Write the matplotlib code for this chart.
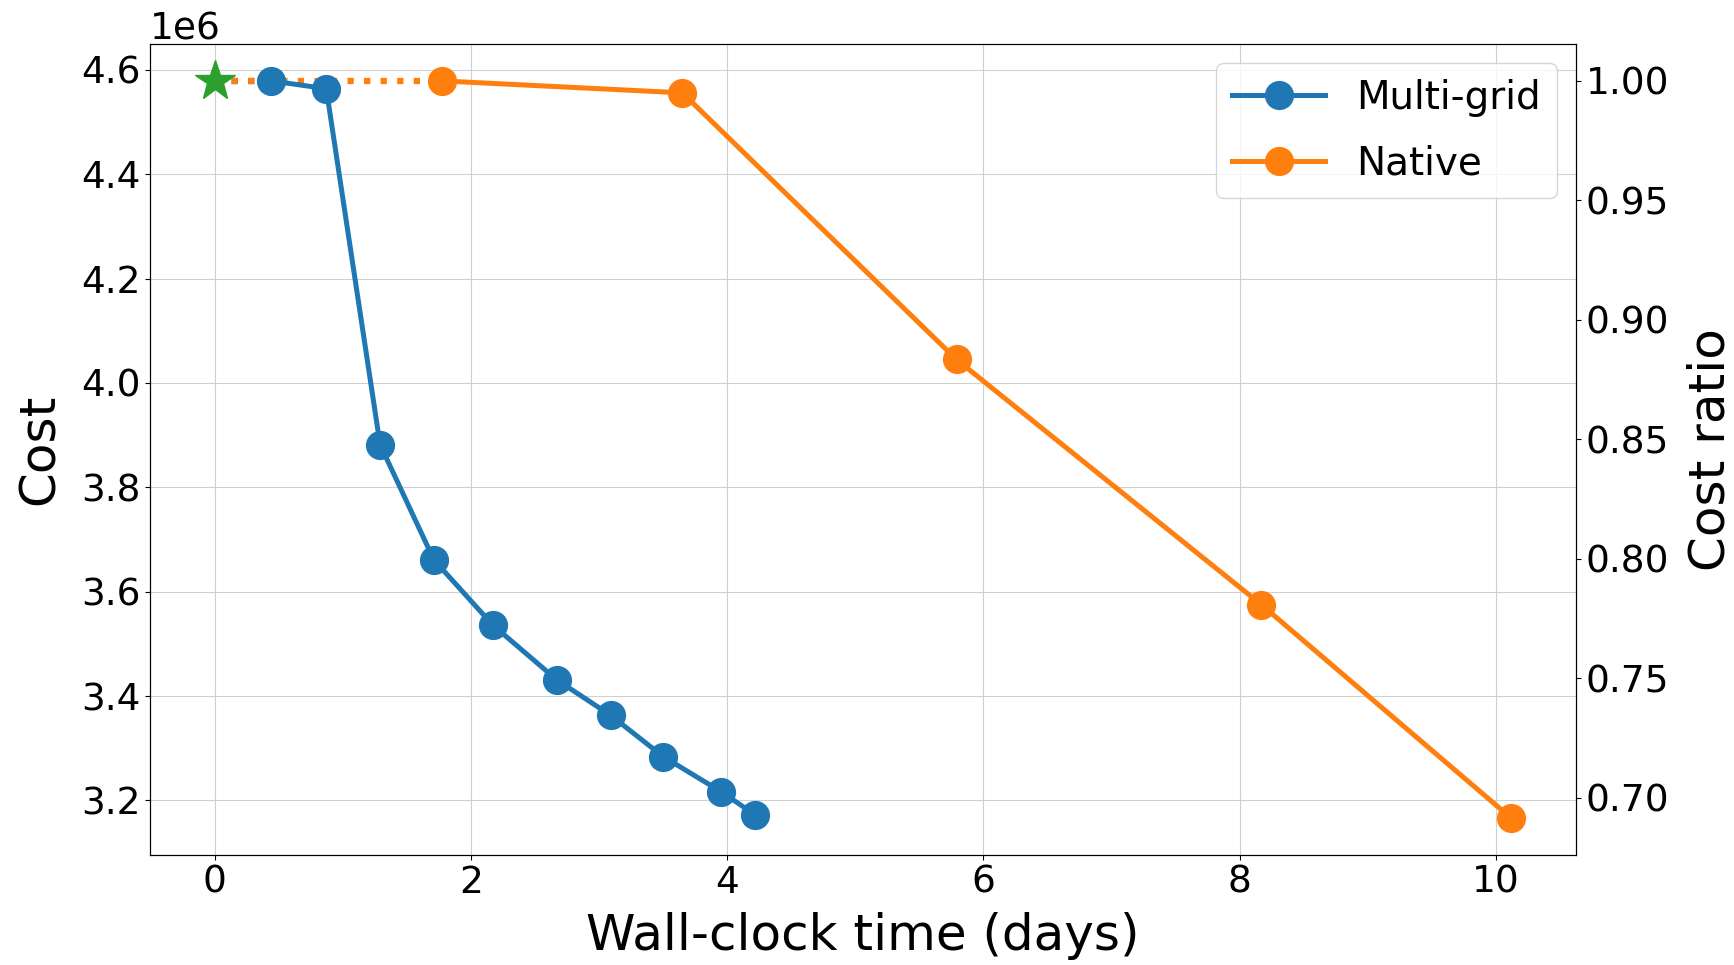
import matplotlib
matplotlib.use("Agg")
import matplotlib.pyplot as plt

# start point (shared by both runs)
start_time = 0.0
start_cost = 4.579e6

mg_time = [0.44, 0.87, 1.29, 1.71, 2.17, 2.67, 3.09, 3.50, 3.95, 4.22]
mg_cost = [4.579e6, 4.564e6, 3.882e6, 3.661e6, 3.536e6, 3.431e6, 3.363e6, 3.284e6, 3.217e6, 3.172e6]

nat_time = [1.77, 3.65, 5.79, 8.17, 10.12]
nat_cost = [4.579e6, 4.556e6, 4.045e6, 3.575e6, 3.166e6]

plt.rcParams['font.family'] = ['DejaVu Sans']

fig, ax = plt.subplots(figsize=(17.34, 9.65), dpi=100)
fig.subplots_adjust(left=0.0865, right=0.9089, top=0.9544, bottom=0.114)

# dotted links from the starting point
ax.plot([start_time, mg_time[0]], [start_cost, mg_cost[0]], ':', color='C0', lw=4.5)
ax.plot([start_time, nat_time[0]], [start_cost, nat_cost[0]], ':', color='C1', lw=4.5)

ax.plot(mg_time, mg_cost, '-o', color='C0', lw=3.6, markersize=20, label="Multi-grid")
ax.plot(nat_time, nat_cost, '-o', color='C1', lw=3.6, markersize=20, label="Native")
ax.plot([start_time], [start_cost], '*', color='C2', markersize=30)

ax.set_xlabel("Wall-clock time (days)", fontsize=36, labelpad=8)
ax.set_ylabel("Cost", fontsize=36, labelpad=12)
ax.tick_params(labelsize=27)
ax.yaxis.get_offset_text().set_fontsize(27)
ax.set_xticks([0, 2, 4, 6, 8, 10])
ax.set_yticks([3.2e6, 3.4e6, 3.6e6, 3.8e6, 4.0e6, 4.2e6, 4.4e6, 4.6e6])
ax.grid(color='#d0d0d0')

ax.legend(loc='upper right', fontsize=28, handlelength=2.4, labelspacing=0.7)

ax2 = ax.twinx()
lo, hi = ax.get_ylim()
ax2.set_ylim(lo / start_cost, hi / start_cost)
ax2.set_yticks([0.70, 0.75, 0.80, 0.85, 0.90, 0.95, 1.00])
ax2.tick_params(labelsize=27)
ax2.set_ylabel("Cost ratio", fontsize=36, labelpad=12)

fig.savefig("out.png", dpi=100)
